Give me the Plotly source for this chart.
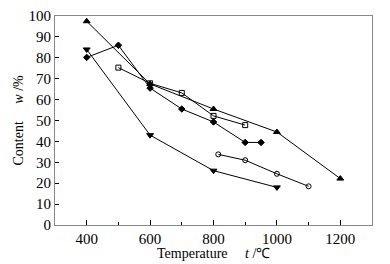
import plotly.graph_objects as go

x_tri_up = [400, 600, 800, 1000, 1200]
y_tri_up = [97.5, 67.5, 55.5, 44.5, 22.2]
x_diamond = [400, 500, 600, 700, 800, 900, 950]
y_diamond = [80.2, 86, 65.5, 55.5, 49.3, 39.5, 39.5]
x_square = [500, 600, 700, 800, 900]
y_square = [75.3, 67.8, 63.2, 52.2, 47.8]
x_tri_down = [400, 600, 800, 1000]
y_tri_down = [84, 43, 26, 18]
x_circle = [815, 900, 1000, 1100]
y_circle = [33.8, 31, 24.5, 18.5]

series = [
    (x_tri_up, y_tri_up, "triangle-up", 6),
    (x_diamond, y_diamond, "diamond", 5),
    (x_square, y_square, "square-open", 5),
    (x_tri_down, y_tri_down, "triangle-down", 6),
    (x_circle, y_circle, "circle-open", 5),
]

fig = go.Figure()
for xs, ys, sym, sz in series:
    fig.add_trace(go.Scatter(
        x=xs, y=ys, mode="lines+markers",
        line=dict(color="black", width=1),
        marker=dict(symbol=sym, size=sz, color="black", line=dict(color="black", width=1)),
        showlegend=False,
    ))

serif = "Liberation Serif, Times New Roman, serif"
tickfont = dict(family=serif, size=15, color="black")
titlefont = dict(family=serif, size=14, color="black")

fig.update_layout(
    width=390, height=264,
    margin=dict(l=47, r=26, t=8, b=47),
    paper_bgcolor="white", plot_bgcolor="white",
    font=tickfont,
    xaxis=dict(
        range=[300, 1300], tickvals=[400, 600, 800, 1000, 1200],
        ticks="inside", ticklen=5, tickcolor="black",
        minor=dict(tickvals=[500, 700, 900, 1100], ticks="inside", ticklen=3, tickcolor="black"),
        showline=True, linecolor="#888", mirror=True, linewidth=1,
        showgrid=False, zeroline=False, automargin=False,
        tickfont=tickfont,
    ),
    yaxis=dict(
        range=[0, 100], dtick=10,
        ticks="inside", ticklen=4, tickcolor="black",
        showline=True, linecolor="#888", mirror=True, linewidth=1,
        showgrid=False, zeroline=False, automargin=False,
        tickfont=tickfont,
    ),
    annotations=[
        dict(text="Temperature     <i>t</i> /℃", xref="paper", yref="paper",
             x=0.5, y=0, yshift=-28, xanchor="center", yanchor="middle",
             showarrow=False, font=titlefont),
        dict(text="Content     <i>w</i> /%", xref="paper", yref="paper",
             x=0, y=0.5, xshift=-37, xanchor="center", yanchor="middle",
             textangle=-90, showarrow=False, font=titlefont),
    ],
)

fig.write_html("out.html")
